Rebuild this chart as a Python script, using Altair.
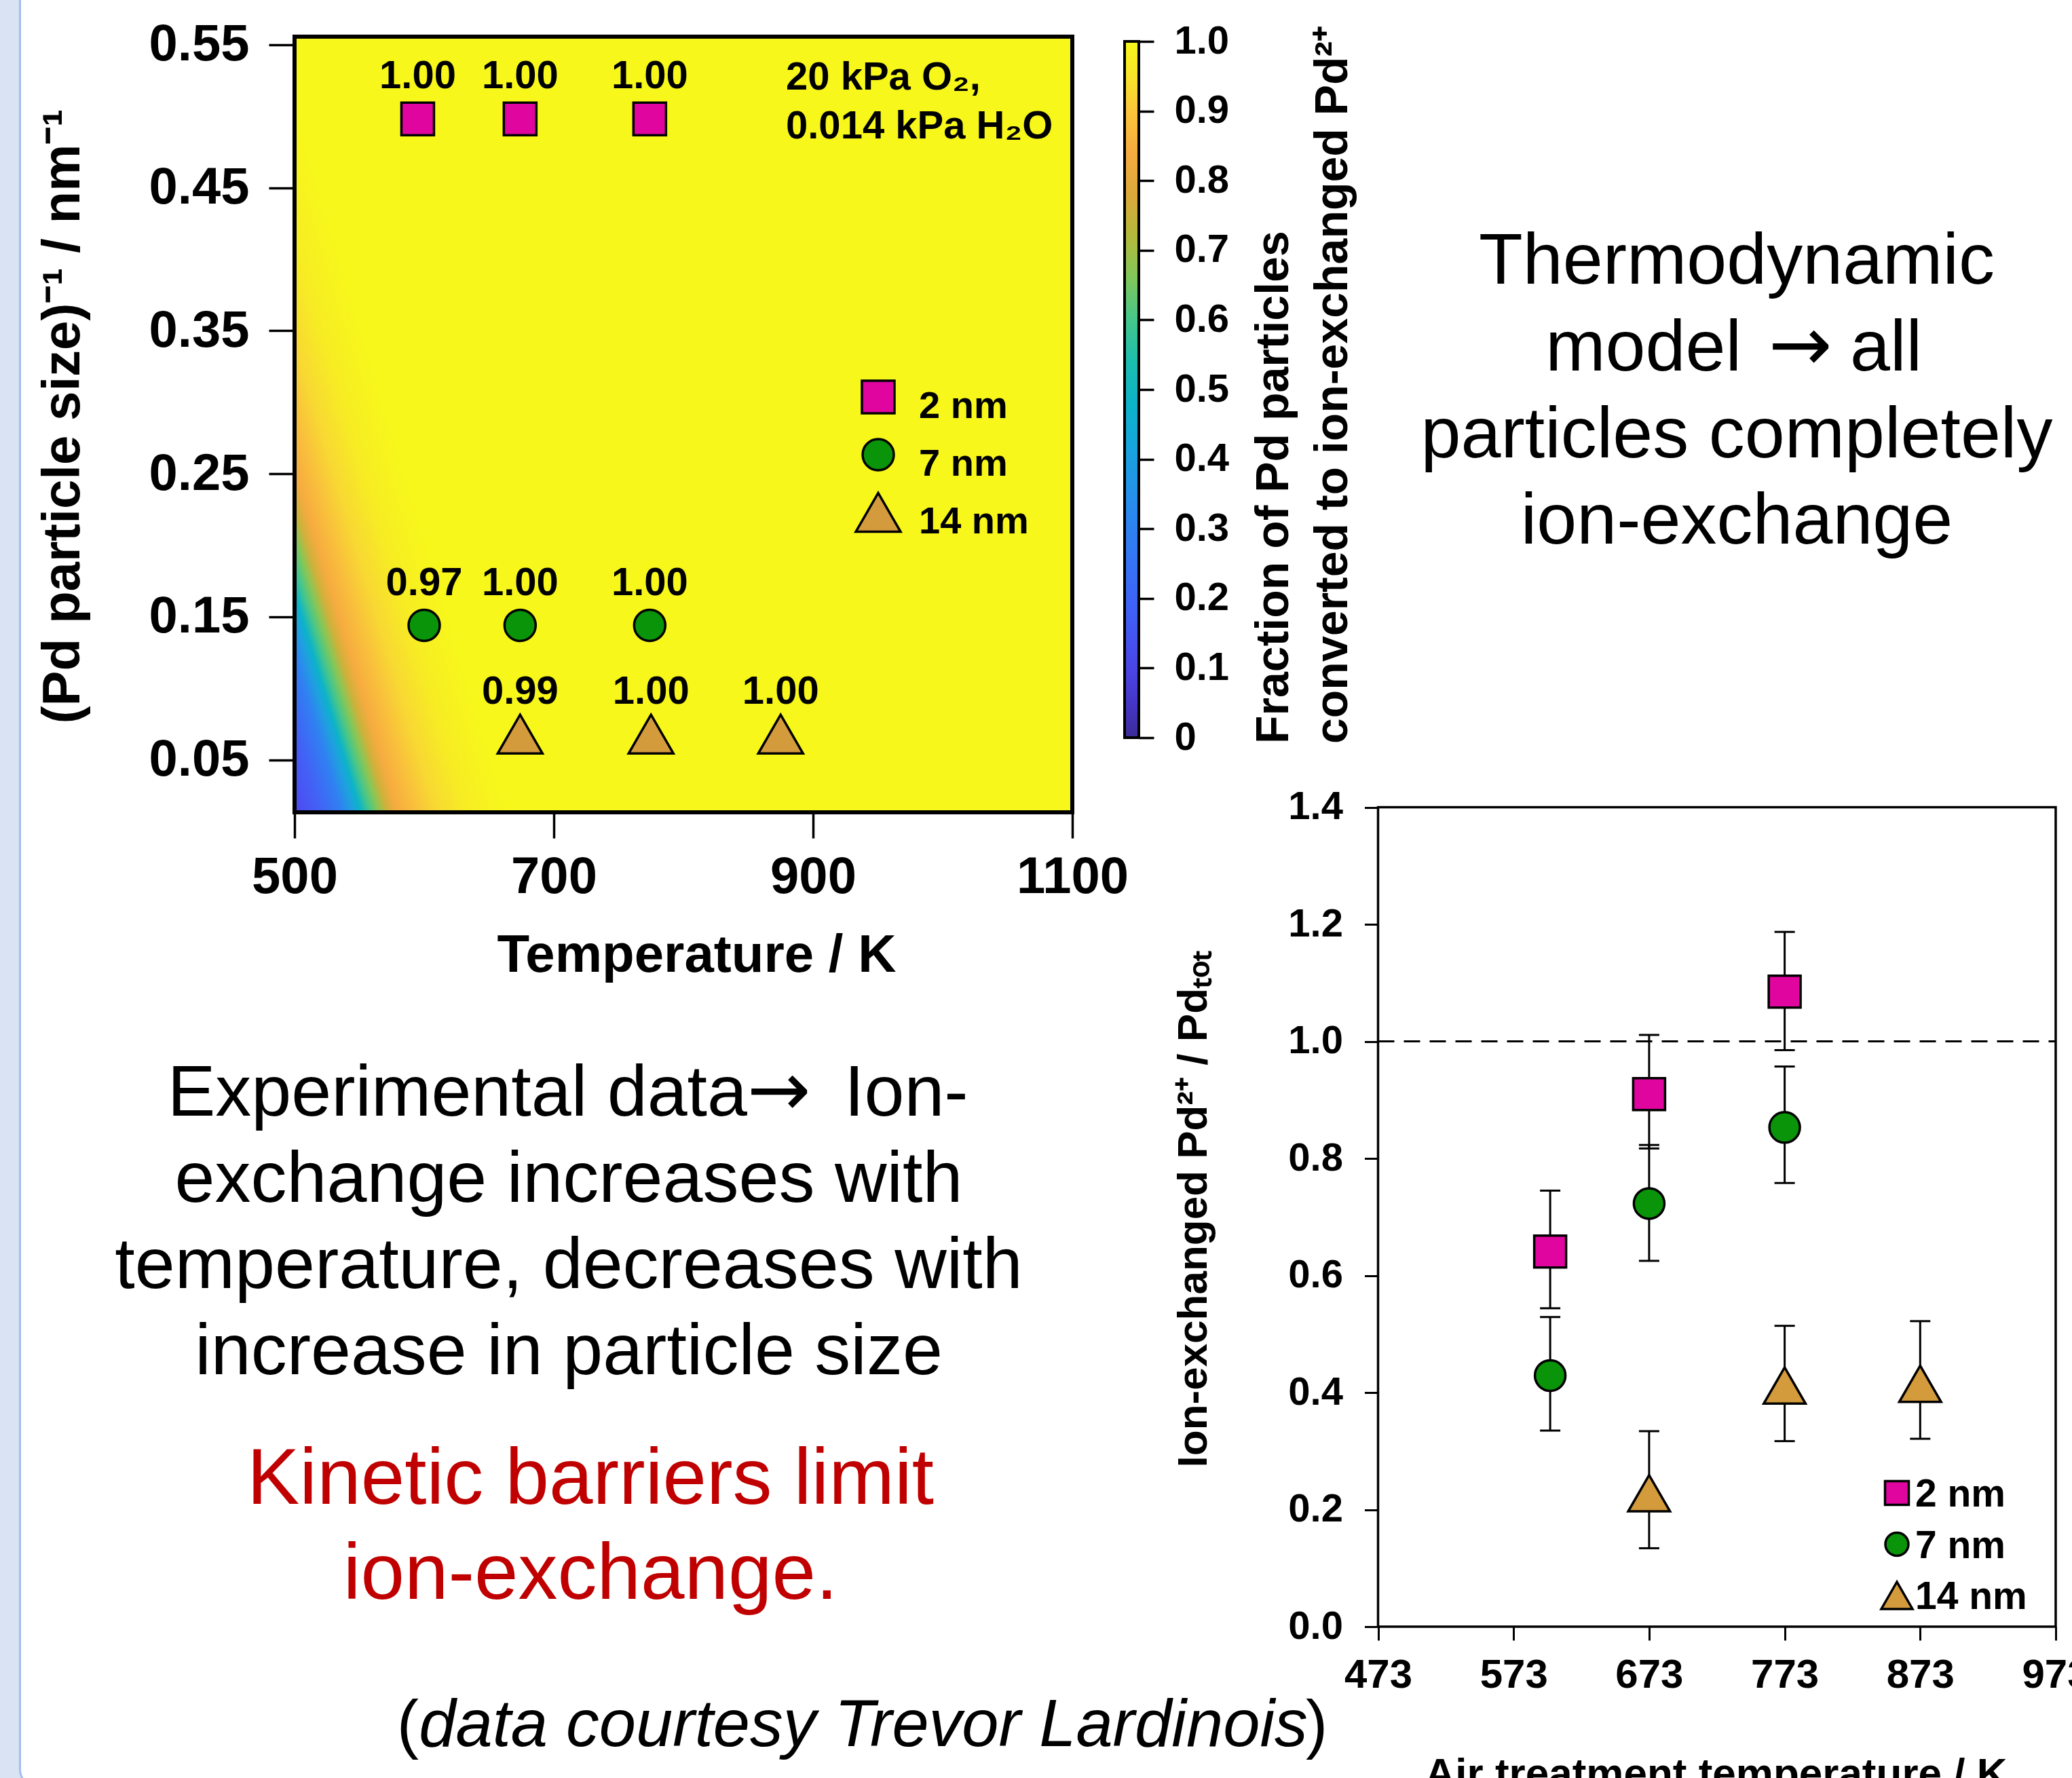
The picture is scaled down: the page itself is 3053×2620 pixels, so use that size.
import altair as alt
import pandas as pd

W, H = 3053, 2620
FONT = "Liberation Sans"
ARROW_FONT = "DejaVu Sans"

# ------------------------------------------------------------------ data
sizes = ["2 nm", "7 nm", "14 nm"]
marker_shapes = ["square", "circle", "triangle-up"]
marker_fills = ["#e0059e", "#0a940a", "#d49b3c"]

# thermodynamic model panel (heat map)
model_temp_2nm = [595, 674, 774]
model_temp_7nm = [600, 674, 774]
model_temp_14nm = [674, 775, 875]
model_inv_size = [0.498, 0.144, 0.068]          # (Pd particle size)^-1 / nm^-1
model_frac_2nm = ["1.00", "1.00", "1.00"]
model_frac_7nm = ["0.97", "1.00", "1.00"]
model_frac_14nm = ["0.99", "1.00", "1.00"]

heat_temp_domain = [500, 1100]
heat_inv_domain = [1 / 75, 1 / 1.8]
heat_x_ticks = [500, 700, 900, 1100]
heat_y_ticks = [0.05, 0.15, 0.25, 0.35, 0.45, 0.55]

# colour bar (value -> colour)
cbar_values = [0.00, 0.05, 0.10, 0.18, 0.27, 0.35, 0.42, 0.48, 0.54, 0.60,
               0.66, 0.72, 0.78, 0.84, 0.90, 0.95, 1.00]
cbar_colors = ["#3b2c96", "#4636c8", "#4a46e6", "#4060f6", "#3379f5", "#2590ea",
               "#17a5dc", "#0cb3c9", "#1cbdae", "#45c68c", "#80c75a", "#b4b93c",
               "#dca83a", "#f6ab40", "#fbc63a", "#f8e42a", "#f7f71b"]
cbar_ticks = [0.0, 0.1, 0.2, 0.3, 0.4, 0.5, 0.6, 0.7, 0.8, 0.9, 1.0]

# colours of the model field read across its lower-left corner
field_offsets = [0.0, 0.09, 0.16, 0.20, 0.225, 0.255, 0.285, 0.315, 0.35, 0.41, 0.48,
                 0.58, 0.72, 1.0]
field_colors = ["#4f48ee", "#4262f6", "#3080f2", "#1fa0e0", "#0cb3c9", "#45c68c",
                "#86c757", "#cfb13a", "#f6ab40", "#f9bf3c", "#f8d833", "#f7ec24",
                "#f7f71b", "#f7f71b"]

# experimental panel
exp_temp_2nm = [600, 673, 773]
exp_temp_7nm = [600, 673, 773]
exp_temp_14nm = [673, 773, 873]
exp_val_2nm = [0.641, 0.910, 1.085]
exp_lo_2nm = [0.544, 0.817, 0.985]
exp_hi_2nm = [0.745, 1.011, 1.187]
exp_val_7nm = [0.429, 0.723, 0.853]
exp_lo_7nm = [0.335, 0.625, 0.758]
exp_hi_7nm = [0.529, 0.823, 0.957]
exp_val_14nm = [0.228, 0.412, 0.415]
exp_lo_14nm = [0.134, 0.317, 0.321]
exp_hi_14nm = [0.334, 0.514, 0.522]
exp_x_domain = [473, 973]
exp_y_domain = [0.0, 1.4]
exp_x_ticks = [473, 573, 673, 773, 873, 973]
exp_y_ticks = [0.0, 0.2, 0.4, 0.6, 0.8, 1.0, 1.2, 1.4]
complete_exchange = 1.0

# ------------------------------------------------------------------ layout (pixels)
HEAT_X_RANGE = [434, 1580]
HEAT_Y_RANGE = [1197, 54]
CBAR_Y_RANGE = [1087, 61]
EXP_X_RANGE = [2030.5, 3029]
EXP_Y_RANGE = [2397, 1189.5]
HEAT_SIZES = [2304, 2116, 4356]
EXP_SIZES = [2209, 2025, 3800]
EXP_LEG_SIZES = [1225, 1156, 2116]

one = pd.DataFrame({"k": [0]})


def lin(domain, rng):
    return alt.Scale(domain=domain, range=rng, nice=False, zero=False)


HX = lin(heat_temp_domain, HEAT_X_RANGE)
HY = lin(heat_inv_domain, HEAT_Y_RANGE)
EX = lin(exp_x_domain, EXP_X_RANGE)
EY = lin(exp_y_domain, EXP_Y_RANGE)


def marker_layers(df, x_enc, y_enc, size_list):
    """one layer per particle size: its own symbol, fill and symbol area"""
    out = []
    for s, shp, col, area in zip(sizes, marker_shapes, marker_fills, size_list):
        out.append(
            alt.Chart(df).transform_filter(alt.datum.size == s).mark_point(
                shape=shp, filled=True, fill=col, opacity=1, stroke="black",
                strokeWidth=3.5, size=area).encode(x=x_enc, y=y_enc))
    return out


def note(text, x, y, size, align="center", color="black", font=FONT, **kw):
    return alt.Chart(one).mark_text(
        align=align, baseline="alphabetic", font=font, fontSize=size, color=color,
        text=text, **kw).encode(x=alt.value(x), y=alt.value(y))


axis_common = dict(labelFont=FONT, labelFontWeight="bold", labelColor="black",
                   titleFont=FONT, titleFontWeight="bold", titleColor="black",
                   tickColor="black", domain=False, grid=False, labelFlush=False,
                   labelOverlap=False, zindex=1)

# ------------------------------------------------------------------ slide panel
panel = alt.Chart(one).mark_rect(fill="white", stroke="#a7bee9", strokeWidth=3,
                                 cornerRadius=26).encode(
    x=alt.value(29.5), x2=alt.value(3300), y=alt.value(-80), y2=alt.value(2633))

# ------------------------------------------------------------------ heat-map panel
heat_box = pd.DataFrame({"t0": [heat_temp_domain[0]], "t1": [heat_temp_domain[1]],
                         "v0": [heat_inv_domain[0]], "v1": [heat_inv_domain[1]]})
field_grad = alt.LinearGradient(
    gradient="linear",
    stops=[alt.GradientStop(offset=o, color=c) for o, c in zip(field_offsets, field_colors)],
    x1=0, y1=1, x2=0.348, y2=0.8953)

heat_axis_x = alt.Axis(orient="bottom", offset=HEAT_Y_RANGE[0] - H, values=heat_x_ticks,
                       format="d", labelFontSize=76, labelPadding=20, tickSize=38,
                       tickWidth=3.5, title="Temperature / K", titleFontSize=78,
                       titleX=1026, titleY=234, titleAlign="center",
                       titleBaseline="alphabetic", titleAngle=0, **axis_common)
heat_axis_y = alt.Axis(orient="left", offset=-HEAT_X_RANGE[0], values=heat_y_ticks,
                       format=".2f", labelFontSize=76, labelPadding=29, tickSize=38,
                       tickWidth=3.5, title="(Pd particle size)⁻¹ / nm⁻¹",
                       titleFontSize=78, titleX=116 - HEAT_X_RANGE[0], titleY=613,
                       titleAngle=270, titleAlign="center", titleBaseline="alphabetic",
                       **axis_common)

heat_field = alt.Chart(heat_box).mark_rect(fill=field_grad, stroke="black", strokeWidth=6).encode(
    x=alt.X("t0:Q", scale=HX, axis=heat_axis_x), x2="t1",
    y=alt.Y("v0:Q", scale=HY, axis=heat_axis_y), y2="v1")

model_rows = []
for i, (s, temps, fracs) in enumerate(zip(
        sizes, [model_temp_2nm, model_temp_7nm, model_temp_14nm],
        [model_frac_2nm, model_frac_7nm, model_frac_14nm])):
    for t, f in zip(temps, fracs):
        model_rows.append({"size": s, "temp": t, "inv": model_inv_size[i], "frac": f})
model_df = pd.DataFrame(model_rows)

hx_enc = alt.X("temp:Q", scale=HX, axis=None)
hy_enc = alt.Y("inv:Q", scale=HY, axis=None)
heat_pts = marker_layers(model_df, hx_enc, hy_enc, HEAT_SIZES)
heat_lbl = alt.Chart(model_df).mark_text(dy=-45, baseline="alphabetic", font=FONT,
                                         fontSize=58, fontWeight="bold", color="black").encode(
    x=hx_enc, y=hy_enc, text="frac:N")

conditions = note(["20 kPa O₂,", "0.014 kPa H₂O"], 1158, 132, 58, align="left",
                  fontWeight="bold", lineHeight=72)

legend_df = pd.DataFrame({"size": sizes})
heat_leg_y = alt.Y("size:N", scale=alt.Scale(type="point", domain=sizes, range=[585, 755],
                                             padding=0), axis=None)
heat_leg_pts = marker_layers(legend_df, alt.value(1294), heat_leg_y, HEAT_SIZES)
heat_leg_txt = alt.Chart(legend_df).mark_text(
    align="left", baseline="alphabetic", dy=31, font=FONT, fontSize=56, fontWeight="bold",
    color="black").encode(x=alt.value(1354), y=heat_leg_y, text="size:N")

# ------------------------------------------------------------------ colour bar
cbar_box = pd.DataFrame({"lo": [cbar_ticks[0]], "hi": [cbar_ticks[-1]]})
cbar_grad = alt.LinearGradient(
    gradient="linear",
    stops=[alt.GradientStop(offset=v, color=c) for v, c in zip(cbar_values, cbar_colors)],
    x1=0, y1=1, x2=0, y2=0)
cbar_axis = alt.Axis(orient="right", offset=1678 - W, values=cbar_ticks,
                     labelExpr="datum.value == 0 ? '0' : format(datum.value, '.1f')",
                     labelFontSize=58, labelPadding=30, tickSize=22, tickWidth=3.5,
                     title="", **axis_common)
cbar = alt.Chart(cbar_box).mark_rect(fill=cbar_grad, stroke="black", strokeWidth=4).encode(
    x=alt.value(1657), x2=alt.value(1678),
    y=alt.Y("lo:Q", scale=lin([0, 1], CBAR_Y_RANGE), axis=cbar_axis), y2="hi")

cbar_t1 = note("Fraction of Pd particles", 1898, 1096, 68, align="left", angle=270,
               fontWeight="bold")
cbar_t2 = note("converted to ion-exchanged Pd²⁺", 1985, 1096, 68, align="left", angle=270,
               fontWeight="bold")

# ------------------------------------------------------------------ free text
thermo_1 = note("Thermodynamic", 2559, 418, 106)
thermo_2a = note("model", 2566, 546, 106, align="right")
thermo_2b = note("→", 2653, 546, 112, font=ARROW_FONT)
thermo_2c = note("all", 2726, 546, 106, align="left")
thermo_3 = note(["particles completely", "ion-exchange"], 2559, 674, 106, lineHeight=127)

experim_1a = note("Experimental data", 1101, 1644, 106, align="right")
experim_1b = note("→", 1148, 1644, 112, font=ARROW_FONT)
experim_1c = note("Ion-", 1244, 1644, 106, align="left")
experim_2 = note(["exchange increases with", "temperature, decreases with",
                  "increase in particle size"], 838, 1771, 106, lineHeight=127)

kinetic = note(["Kinetic barriers limit", "ion-exchange."], 870, 2216, 116,
               color="#c00000", lineHeight=140)
credit_open = note("(", 617, 2573, 97, align="right")
credit_mid = note("data courtesy Trevor Lardinois", 1272, 2573, 97.5, fontStyle="italic")
credit_close = note(")", 1924, 2573, 97, align="left")

# ------------------------------------------------------------------ experimental panel
exp_rows = []
for s, temps, vals, los, his in zip(
        sizes,
        [exp_temp_2nm, exp_temp_7nm, exp_temp_14nm],
        [exp_val_2nm, exp_val_7nm, exp_val_14nm],
        [exp_lo_2nm, exp_lo_7nm, exp_lo_14nm],
        [exp_hi_2nm, exp_hi_7nm, exp_hi_14nm]):
    for t, v, lo, hi in zip(temps, vals, los, his):
        exp_rows.append({"size": s, "temp": t, "val": v, "lo": lo, "hi": hi})
exp_df = pd.DataFrame(exp_rows)

ex_enc = alt.X("temp:Q", scale=EX, axis=None)
err_rule = alt.Chart(exp_df).mark_rule(color="black", strokeWidth=3).encode(
    x=ex_enc, y=alt.Y("lo:Q", scale=EY, axis=None), y2="hi")
err_caps = alt.Chart(exp_df).transform_fold(["lo", "hi"], as_=["end", "bound"]).mark_tick(
    orient="horizontal", size=30, thickness=3, color="black", opacity=1).encode(
    x=ex_enc, y=alt.Y("bound:Q", scale=EY, axis=None))
exp_pts = marker_layers(exp_df, ex_enc, alt.Y("val:Q", scale=EY, axis=None), EXP_SIZES)

ref_df = pd.DataFrame({"x0": [exp_x_domain[0]], "x1": [exp_x_domain[1]],
                       "y": [complete_exchange]})
dashed = alt.Chart(ref_df).mark_rule(color="black", strokeWidth=3, strokeDash=[24, 14]).encode(
    x=alt.X("x0:Q", scale=EX, axis=None), x2="x1", y=alt.Y("y:Q", scale=EY, axis=None))

exp_axis_x = alt.Axis(orient="bottom", offset=EXP_Y_RANGE[0] - H, values=exp_x_ticks,
                      format="d", labelFontSize=60, labelPadding=22, tickSize=20,
                      tickWidth=3, title="Air treatment temperature / K", titleFontSize=62,
                      titleX=2528, titleY=236, titleAlign="center",
                      titleBaseline="alphabetic", titleAngle=0, **axis_common)
exp_axis_y = alt.Axis(orient="left", offset=-EXP_X_RANGE[0], values=exp_y_ticks,
                      format=".1f", labelFontSize=58, labelPadding=32, tickSize=20,
                      tickWidth=3, title="Ion-exchanged Pd²⁺ / Pdₜₒₜ", titleFontSize=62,
                      titleX=1777 - EXP_X_RANGE[0], titleY=1781, titleAngle=270,
                      titleAlign="center", titleBaseline="alphabetic", **axis_common)
exp_box = pd.DataFrame({"x0": [exp_x_domain[0]], "x1": [exp_x_domain[1]],
                        "y0": [exp_y_domain[0]], "y1": [exp_y_domain[1]]})
exp_frame = alt.Chart(exp_box).mark_rect(fill="transparent", stroke="black",
                                         strokeWidth=3.5).encode(
    x=alt.X("x0:Q", scale=EX, axis=exp_axis_x), x2="x1",
    y=alt.Y("y0:Q", scale=EY, axis=exp_axis_y), y2="y1")

exp_leg_y = alt.Y("size:N", scale=alt.Scale(type="point", domain=sizes, range=[2200, 2351],
                                            padding=0), axis=None)
exp_leg_pts = marker_layers(legend_df, alt.value(2795), exp_leg_y, EXP_LEG_SIZES)
exp_leg_txt = alt.Chart(legend_df).mark_text(
    align="left", baseline="alphabetic", dy=20, font=FONT, fontSize=57, fontWeight="bold",
    color="black").encode(x=alt.value(2822), y=exp_leg_y, text="size:N")

# ------------------------------------------------------------------ assemble
chart = alt.layer(
    panel,
    heat_field, *heat_pts, heat_lbl, conditions, *heat_leg_pts, heat_leg_txt,
    cbar, cbar_t1, cbar_t2,
    thermo_1, thermo_2a, thermo_2b, thermo_2c, thermo_3,
    experim_1a, experim_1b, experim_1c, experim_2,
    kinetic, credit_open, credit_mid, credit_close,
    dashed, err_rule, err_caps, *exp_pts, exp_frame, *exp_leg_pts, exp_leg_txt,
).resolve_scale(
    x="independent", y="independent",
).resolve_axis(
    x="independent", y="independent",
).properties(
    width=W, height=H, padding=0, background="#dae3f3",
    autosize=alt.AutoSizeParams(type="none"),
).configure_view(strokeWidth=0)

chart.save("out.html", embed_options={"renderer": "svg", "actions": False})
